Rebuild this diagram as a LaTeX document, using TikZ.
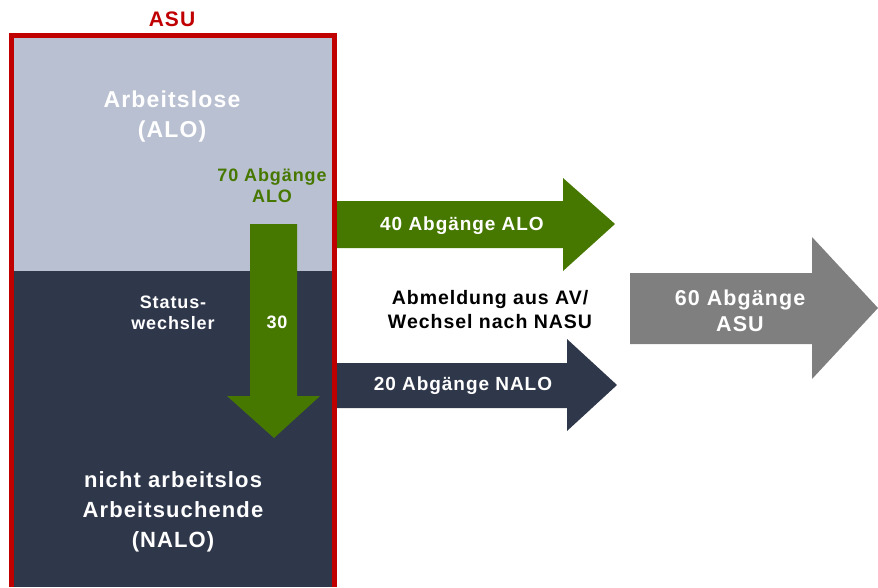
\documentclass[tikz,border=0pt]{standalone}
\usepackage{fontspec}
\setmainfont[LetterSpace=5]{Liberation Sans}
\definecolor{asured}{HTML}{C00000}
\definecolor{alolight}{HTML}{B9C0D1}
\definecolor{nalodark}{HTML}{2F374B}
\definecolor{alogreen}{HTML}{467800}
\definecolor{asugray}{HTML}{7F7F7F}

\begin{document}
\begin{tikzpicture}[x=1pt,y=-1pt,
   lbl/.style={text=white,align=center,inner sep=0pt,
    font=\bfseries\fontsize{19}{21}\selectfont},
   biglbl/.style={lbl,font=\bfseries\fontsize{22}{30}\selectfont}
    ]
  \useasboundingbox (0,0) rectangle (878,587);

  % -- stock boxes
  \fill[alolight] (11,36) rectangle (335,271);
  \fill[nalodark] (11,271) rectangle (335,587);
  \draw[asured,line width=5pt] (11.5,587) -- (11.5,35.5) -- (334.5,35.5) -- (334.5,587);
  \node[text=asured,font=\bfseries\fontsize{21}{24}\selectfont] at (172,19) (asu) {ASU};

  % -- arrows
  \fill[alogreen] (250,224) -- (297,224) -- (297,396) -- (320,396) -- (274,438)
    -- (227,396) -- (250,396) -- cycle;
  \fill[alogreen] (337,201) -- (563,201) -- (563,178) -- (615,224) -- (563,271)
    -- (563,248) -- (337,248) -- cycle;
  \fill[nalodark] (337,363) -- (567,363) -- (567,339) -- (617,385) -- (567,431)
    -- (567,408) -- (337,408) -- cycle;
  \fill[asugray] (630,273) -- (812,273) -- (812,237) -- (878,308) -- (812,379)
    -- (812,344) -- (630,344) -- cycle;

  % -- labels
  \node[biglbl,font=\bfseries\fontsize{23}{30}\selectfont] at (172,117) (alo) {Arbeitslose\\(ALO)};
  \node[lbl,text=alogreen,font=\bfseries\fontsize{18}{21}\selectfont] at (272,186) (abgalo) {70 Abgänge\\ALO};
  \node[lbl,font=\bfseries\fontsize{18}{21}\selectfont] at (173,313) (wechsler) {Status-\\wechsler};
  \node[lbl,font=\bfseries\fontsize{18}{21}\selectfont] at (277,322) (n30) {30};
  \node[biglbl] at (173,512) (nalo) {nicht arbeitslos\\Arbeitsuchende\\(NALO)};
  \node[lbl] at (462,226) (abg40) {40 Abgänge ALO};
  \node[lbl,text=black,font=\bfseries\fontsize{19.5}{24}\selectfont] at (490,310) (abmeldung) {Abmeldung aus AV/\\Wechsel nach NASU};
  \node[lbl] at (463,386) (abg20) {20 Abgänge NALO};
  \node[biglbl,font=\bfseries\fontsize{21.5}{26}\selectfont] at (740,311) (abg60) {60 Abgänge\\ASU};

\end{tikzpicture}
\end{document}
